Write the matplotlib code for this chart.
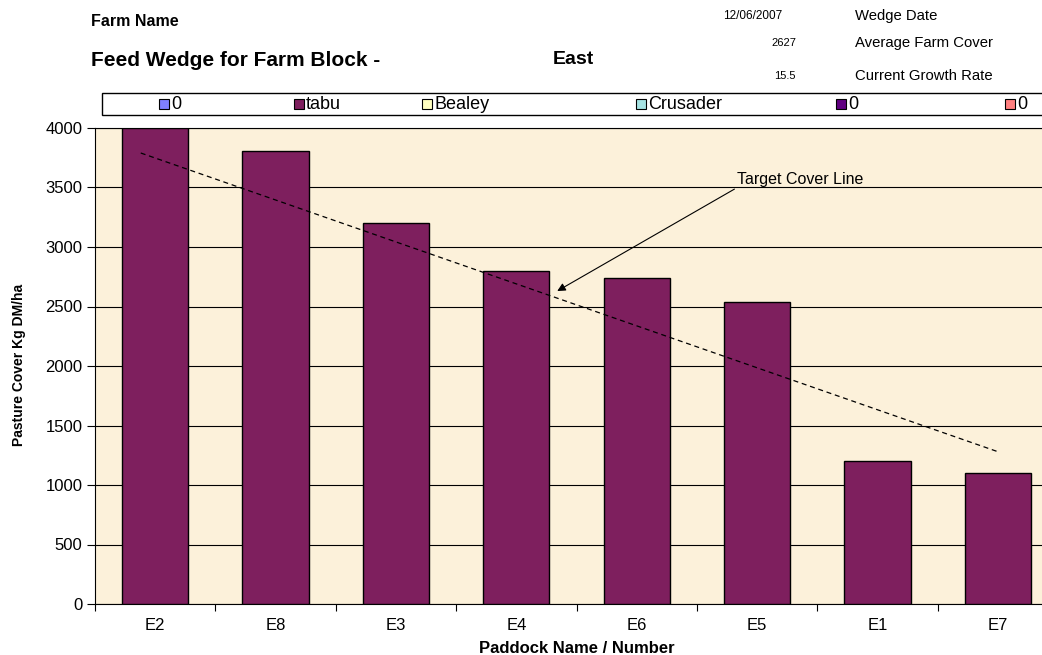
import matplotlib.pyplot as plt
from matplotlib.patches import Rectangle

# paddock covers for the wedge
paddocks = ['E2', 'E8', 'E3', 'E4', 'E6', 'E5', 'E1', 'E7']
cover = [4000, 3810, 3200, 2800, 2740, 2540, 1200, 1100]

# target cover line, first and last paddock
target_cover = [3790, 1280]

legend_names = ['0', 'tabu', 'Bealey', 'Crusader', '0', '0']
legend_colors = ['#8080FF', '#7E1F5E', '#FFFFC0', '#A6E3E3', '#600080', '#FF8080']

wedge_date = '12/06/2007'
avg_farm_cover = '2627'
growth_rate = '15.5'

plt.rcParams['font.family'] = ['Liberation Sans', 'DejaVu Sans']

W, H = 1042, 655


def px(x):
    return x / W


def py(y):
    return 1 - y / H


fig = plt.figure(figsize=(W / 100, H / 100), dpi=100)
ax = fig.add_axes([px(95), py(604), (1058 - 95) / W, 476 / H])

ax.set_facecolor('#FCF1DA')
ax.bar(range(len(paddocks)), cover, width=0.55, color='#7E1F5E',
       edgecolor='black', linewidth=1, zorder=3)

# target line drawn across the paddocks
ax.plot([-0.12, len(paddocks) - 1], target_cover, color='black', lw=0.9,
        ls=(0, (4, 3)), zorder=4)
ax.annotate('Target Cover Line', xy=(3.34, 2630), xytext=(5.36, 3500),
            ha='center', va='bottom', fontsize=11.5,
            arrowprops=dict(arrowstyle='-|>', color='black', lw=0.8,
                            mutation_scale=12, shrinkA=0, shrinkB=0,
                            relpos=(0.0, 0.0)),
            zorder=5)

ax.set_xlim(-0.5, len(paddocks) - 0.5)
ax.set_ylim(0, 4000)
ax.set_yticks(range(0, 4001, 500))
ax.yaxis.grid(True, color='black', linewidth=0.8)
ax.set_axisbelow(True)

ax.set_xticks(range(len(paddocks)))
ax.set_xticklabels(paddocks, fontsize=12)
ax.set_xticks([i - 0.5 for i in range(len(paddocks) + 1)], minor=True)
ax.tick_params(axis='x', which='major', length=0, pad=10)
ax.tick_params(axis='x', which='minor', length=5, width=0.8)
ax.tick_params(axis='y', length=6, width=0.8, labelsize=12, pad=3)
for s in ax.spines.values():
    s.set_linewidth(0.8)

ax.set_xlabel('Paddock Name / Number', fontsize=12, fontweight='bold', labelpad=6)
fig.text(px(19), py(365), 'Pasture Cover Kg DM/ha', rotation=90, ha='center',
         va='center', fontsize=10, fontweight='bold')

# header block
fig.text(px(91), py(21), 'Farm Name', fontsize=11.5, fontweight='bold', va='center')
fig.text(px(91), py(60), 'Feed Wedge for Farm Block -', fontsize=15,
         fontweight='bold', va='center')
fig.text(px(553), py(60), 'East', fontsize=14, fontweight='bold', va='center')
fig.text(px(782), py(16), wedge_date, fontsize=8.5, ha='right', va='center')
fig.text(px(796), py(43), avg_farm_cover, fontsize=8, ha='right', va='center')
fig.text(px(796), py(76), growth_rate, fontsize=8, ha='right', va='center')
fig.text(px(855), py(16), 'Wedge Date', fontsize=10.7, va='center')
fig.text(px(855), py(43), 'Average Farm Cover', fontsize=10.7, va='center')
fig.text(px(855), py(76), 'Current Growth Rate', fontsize=10.7, va='center')

# legend strip
fig.add_artist(Rectangle((px(102), py(115)), (1060 - 102) / W, 22 / H,
                         transform=fig.transFigure, facecolor='white',
                         edgecolor='black', lw=1))
legend_x = [159, 294, 422, 636, 836, 1005]
for x, name, col in zip(legend_x, legend_names, legend_colors):
    fig.add_artist(Rectangle((px(x), py(109)), 10 / W, 10 / H,
                             transform=fig.transFigure, facecolor=col,
                             edgecolor='black', lw=0.8))
    fig.text(px(x + 12), py(109), name, fontsize=13, va='baseline')

fig.savefig('out.png', dpi=100)
